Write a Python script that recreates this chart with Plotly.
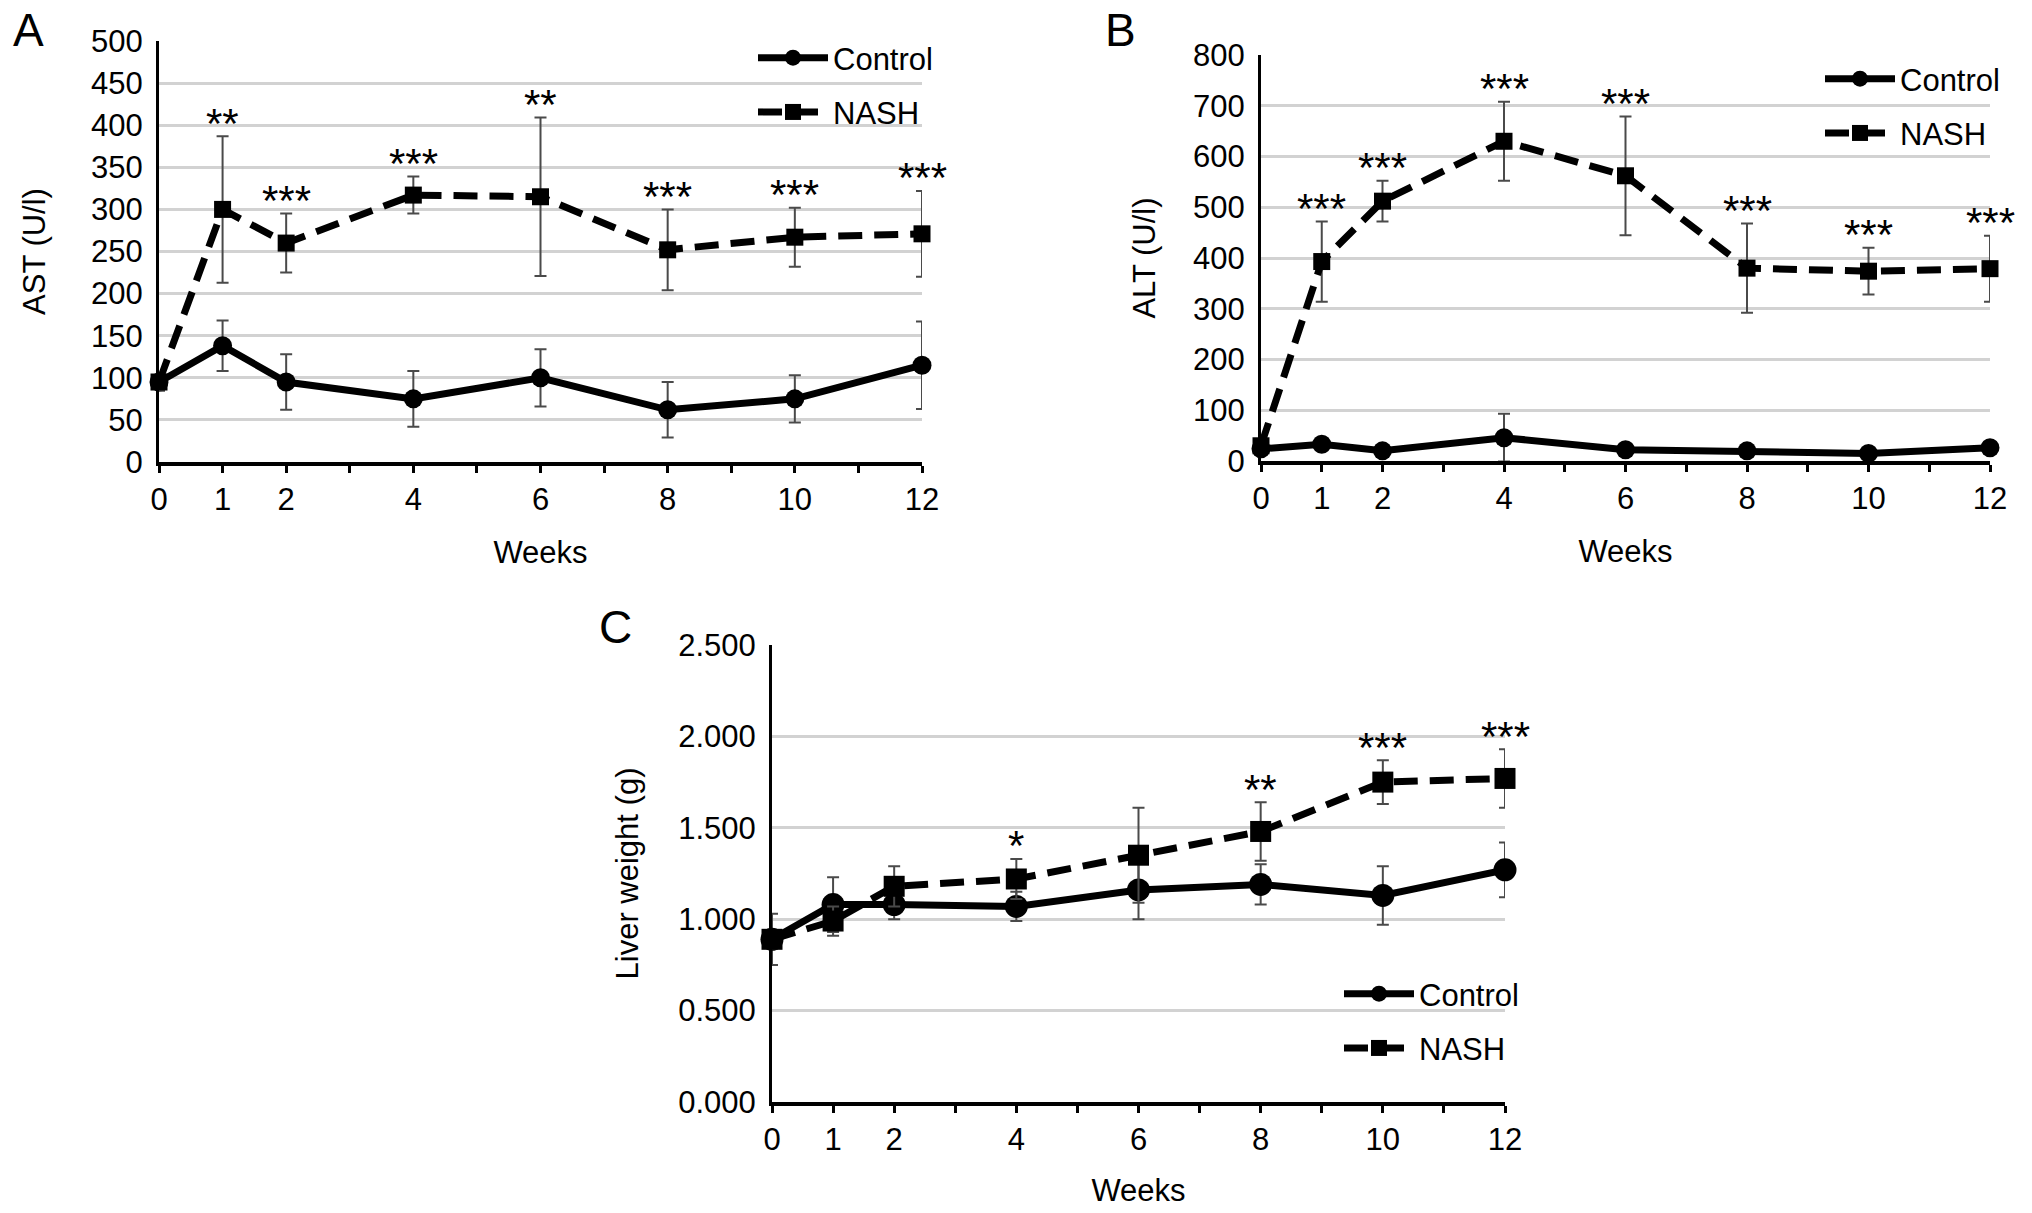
import plotly.graph_objects as go

# ---------------- data ----------------
weeks = [0, 1, 2, 4, 6, 8, 10, 12]
tick_vals = [0, 1, 2, 3, 4, 5, 6, 7, 8, 9, 10, 11, 12]
tick_text = ["0", "1", "2", "", "4", "", "6", "", "8", "", "10", "", "12"]

ast_control = [95, 138, 95, 75, 100, 62, 75, 115]
ast_control_err = [10, 30, 33, 33, 34, 33, 28, 52]
ast_nash = [95, 300, 260, 317, 315, 252, 267, 271]
ast_nash_err = [10, 87, 35, 22, 94, 48, 35, 51]
ast_sig = ["", "**", "***", "***", "**", "***", "***", "***"]

alt_control = [24, 33, 20, 46, 22, 20, 15, 26]
alt_control_err = [8, 8, 6, 47, 6, 6, 5, 6]
alt_nash = [30, 393, 512, 630, 562, 380, 374, 379]
alt_nash_err = [10, 79, 40, 78, 117, 88, 46, 65]
alt_sig = ["", "***", "***", "***", "***", "***", "***", "***"]

liver_control = [0.89, 1.08, 1.08, 1.07, 1.16, 1.19, 1.13, 1.27]
liver_control_err = [0.14, 0.15, 0.08, 0.08, 0.16, 0.11, 0.16, 0.15]
liver_nash = [0.89, 0.99, 1.18, 1.22, 1.35, 1.48, 1.75, 1.77]
liver_nash_err = [0.05, 0.08, 0.11, 0.11, 0.26, 0.16, 0.12, 0.16]
liver_sig = ["", "", "", "*", "", "**", "***", "***"]

W, H = 2032, 1213
FONT = "Liberation Sans, Arial, Helvetica, sans-serif"
FS = 31
STAR_FS = 42
GRID = "#d2d2d2"
ERRC = "#4a4a4a"

def px_x(p):
    return p / W

def px_y(p):
    return 1 - p / H

panels = [
    dict(xa="x", ya="y", legend="legend", ctrl=ast_control, ce=ast_control_err,
         nash=ast_nash, ne=ast_nash_err, sig=ast_sig, msc=19, mss=17),
    dict(xa="x2", ya="y2", legend="legend2", ctrl=alt_control, ce=alt_control_err,
         nash=alt_nash, ne=alt_nash_err, sig=alt_sig, msc=19, mss=17),
    dict(xa="x3", ya="y3", legend="legend3", ctrl=liver_control, ce=liver_control_err,
         nash=liver_nash, ne=liver_nash_err, sig=liver_sig, msc=23, mss=21),
]

fig = go.Figure()
for p in panels:
    fig.add_trace(go.Scatter(
        x=weeks, y=p["ctrl"], name="Control", mode="lines+markers",
        xaxis=p["xa"], yaxis=p["ya"], legend=p["legend"], legendgroup="c",
        line=dict(color="black", width=7),
        marker=dict(symbol="circle", size=p["msc"], color="black"),
        error_y=dict(type="data", array=p["ce"], color=ERRC, thickness=2, width=6),
        cliponaxis=False))
    fig.add_trace(go.Scatter(
        x=weeks, y=p["nash"], name="NASH", mode="lines+markers",
        xaxis=p["xa"], yaxis=p["ya"], legend=p["legend"], legendgroup="n",
        line=dict(color="black", width=7, dash="24px,12px"),
        marker=dict(symbol="square", size=p["mss"], color="black"),
        error_y=dict(type="data", array=p["ne"], color=ERRC, thickness=2, width=6),
        cliponaxis=False))
    # significance stars placed above the NASH upper error bar
    for wk, v, e, s in zip(weeks, p["nash"], p["ne"], p["sig"]):
        if s:
            fig.add_annotation(x=wk, y=v + e, xref=p["xa"], yref=p["ya"], text=s,
                               showarrow=False, xanchor="center", yanchor="middle",
                               yshift=13,
                               font=dict(family=FONT, size=STAR_FS, color="black"))

def xaxis(dom, anchor, standoff):
    return dict(domain=dom, anchor=anchor, range=[0, 12], tickmode="array",
                tickvals=tick_vals, ticktext=tick_text, ticks="outside", ticklen=7,
                tickwidth=3, tickcolor="black", showline=True, linewidth=4,
                linecolor="black", showgrid=False, zeroline=False, automargin=False,
                tickfont=dict(family=FONT, size=FS, color="black"),
                title=dict(text="Weeks", font=dict(family=FONT, size=FS, color="black"),
                           standoff=standoff))

def yaxis(dom, anchor, rng, dtick, title, standoff, fmt=None):
    d = dict(domain=dom, anchor=anchor, range=rng, dtick=dtick, tick0=0,
             showline=True, linewidth=3, linecolor="black", showgrid=True,
             gridcolor=GRID, gridwidth=3, zeroline=False, ticks="", automargin=False,
             ticklabelstandoff=7,
             tickfont=dict(family=FONT, size=FS, color="black"),
             title=dict(text=title, font=dict(family=FONT, size=FS, color="black"),
                        standoff=standoff))
    if fmt:
        d["tickformat"] = fmt
    return d

fig.update_layout(
    width=W, height=H, margin=dict(l=0, r=0, t=0, b=0, autoexpand=False),
    paper_bgcolor="white", plot_bgcolor="white",
    font=dict(family=FONT, size=FS, color="black"),
    xaxis=xaxis([px_x(159), px_x(922)], "y", 26),
    yaxis=yaxis([px_y(462), px_y(41)], "x", [0, 500], 50, "AST (U/l)", 37),
    xaxis2=xaxis([px_x(1261), px_x(1990)], "y2", 26),
    yaxis2=yaxis([px_y(461), px_y(55)], "x2", [0, 800], 100, "ALT (U/l)", 29),
    xaxis3=xaxis([px_x(772), px_x(1505)], "y3", 24),
    yaxis3=yaxis([px_y(1102), px_y(645)], "x3", [0, 2.5], 0.5, "Liver weight (g)", 31, ".3f"),
)

leg_common = dict(bgcolor="rgba(0,0,0,0)", itemwidth=70, tracegroupgap=11,
                  font=dict(family=FONT, size=FS, color="black"),
                  xanchor="left", yanchor="top", itemclick=False)
fig.update_layout(
    legend=dict(x=px_x(753), y=px_y(31), **leg_common),
    legend2=dict(x=px_x(1820), y=px_y(52), **leg_common),
    legend3=dict(x=px_x(1339), y=px_y(967), **leg_common),
)

for letter, (lx, ly) in zip(["A", "B", "C"], [(28, 30), (1120, 30), (615, 627)]):
    fig.add_annotation(text=letter, x=px_x(lx), y=px_y(ly), xref="paper", yref="paper",
                       showarrow=False, xanchor="center", yanchor="middle",
                       font=dict(family=FONT, size=46, color="black"))

fig.write_html("out.html", config={"displayModeBar": False},
               post_script="document.body.style.margin='0px';")
